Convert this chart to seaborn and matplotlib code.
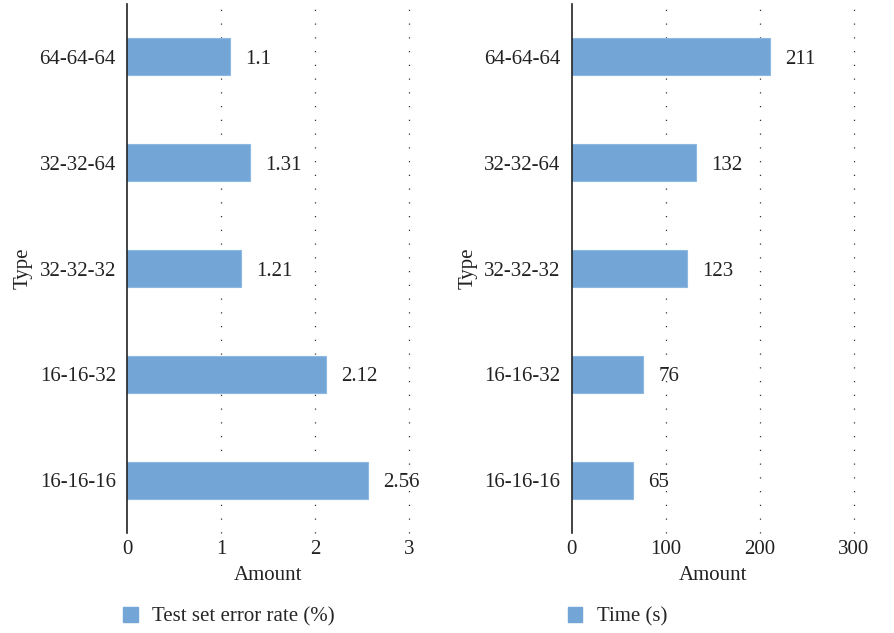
import matplotlib
matplotlib.use("Agg")
import matplotlib.pyplot as plt
import seaborn as sns
import pandas as pd
from matplotlib.patches import Patch

types = ["64-64-64", "32-32-64", "32-32-32", "16-16-32", "16-16-16"]
error_rate = [1.1, 1.31, 1.21, 2.12, 2.56]
time_s = [211, 132, 123, 76, 65]
error_labels = ["1.1", "1.31", "1.21", "2.12", "2.56"]
time_labels = ["211", "132", "123", "76", "65"]
error_ticks = [0, 1, 2, 3]
time_ticks = [0, 100, 200, 300]

sns.set_style("white")
plt.rcParams["font.family"] = ["Liberation Serif", "DejaVu Serif"]
plt.rcParams["font.size"] = 15

BAR = "#73A5D6"
FS = 15
W, H = 894, 633
fig = plt.figure(figsize=(W / 100, H / 100), dpi=100)

def make_panel(left_px, values, labels, ticks, legend_label, pad_val):
    ax = fig.add_axes([left_px / W, 100 / H, 282 / W, 529 / H])
    df = pd.DataFrame({"Type": types, "Amount": values})
    sns.barplot(data=df, x="Amount", y="Type", order=types, orient="h",
                color=BAR, width=0.35, saturation=1, ax=ax,
                edgecolor="#8db8e2", linewidth=0.8)
    ax.set_xlim(ticks[0], ticks[-1])
    ax.set_ylim(len(types) - 0.5, -0.5)
    ax.set_xticks(ticks)
    ax.set_xticklabels([str(t) for t in ticks])
    for sp in ["top", "right", "bottom"]:
        ax.spines[sp].set_visible(False)
    ax.spines["left"].set_color("#222222")
    ax.spines["left"].set_linewidth(1.2)
    ax.tick_params(axis="y", length=0, pad=8, labelsize=FS, colors="#222222")
    ax.tick_params(axis="x", length=3, direction="in", color="#999999",
                   pad=5, labelsize=FS, labelcolor="#222222")
    for t in ticks[1:]:
        ax.axvline(t, color="#333333", linestyle=(0, (1, 10)), linewidth=0.9,
                   zorder=0, clip_on=False)
    ax.set_xlabel("Amount", fontsize=FS, color="#222222", labelpad=5)
    ax.set_ylabel("Type", fontsize=FS, color="#222222", labelpad=5)
    for i, (v, lab) in enumerate(zip(values, labels)):
        ax.text(v + pad_val, i, lab, va="center_baseline", ha="left",
                fontsize=FS, color="#222222")
    fig.legend(handles=[Patch(facecolor=BAR, edgecolor=BAR, label=legend_label)],
               loc="center left", bbox_to_anchor=((left_px - 4) / W, 1 - 617 / H),
               frameon=False, fontsize=FS, handlelength=0.7, handleheight=0.7,
               handletextpad=0.7, borderpad=0, borderaxespad=0)
    return ax

make_panel(127, error_rate, error_labels, error_ticks, "Test set error rate (%)", 0.16)
make_panel(571.7, time_s, time_labels, time_ticks, "Time (s)", 16)

fig.savefig("out.png", dpi=100)
